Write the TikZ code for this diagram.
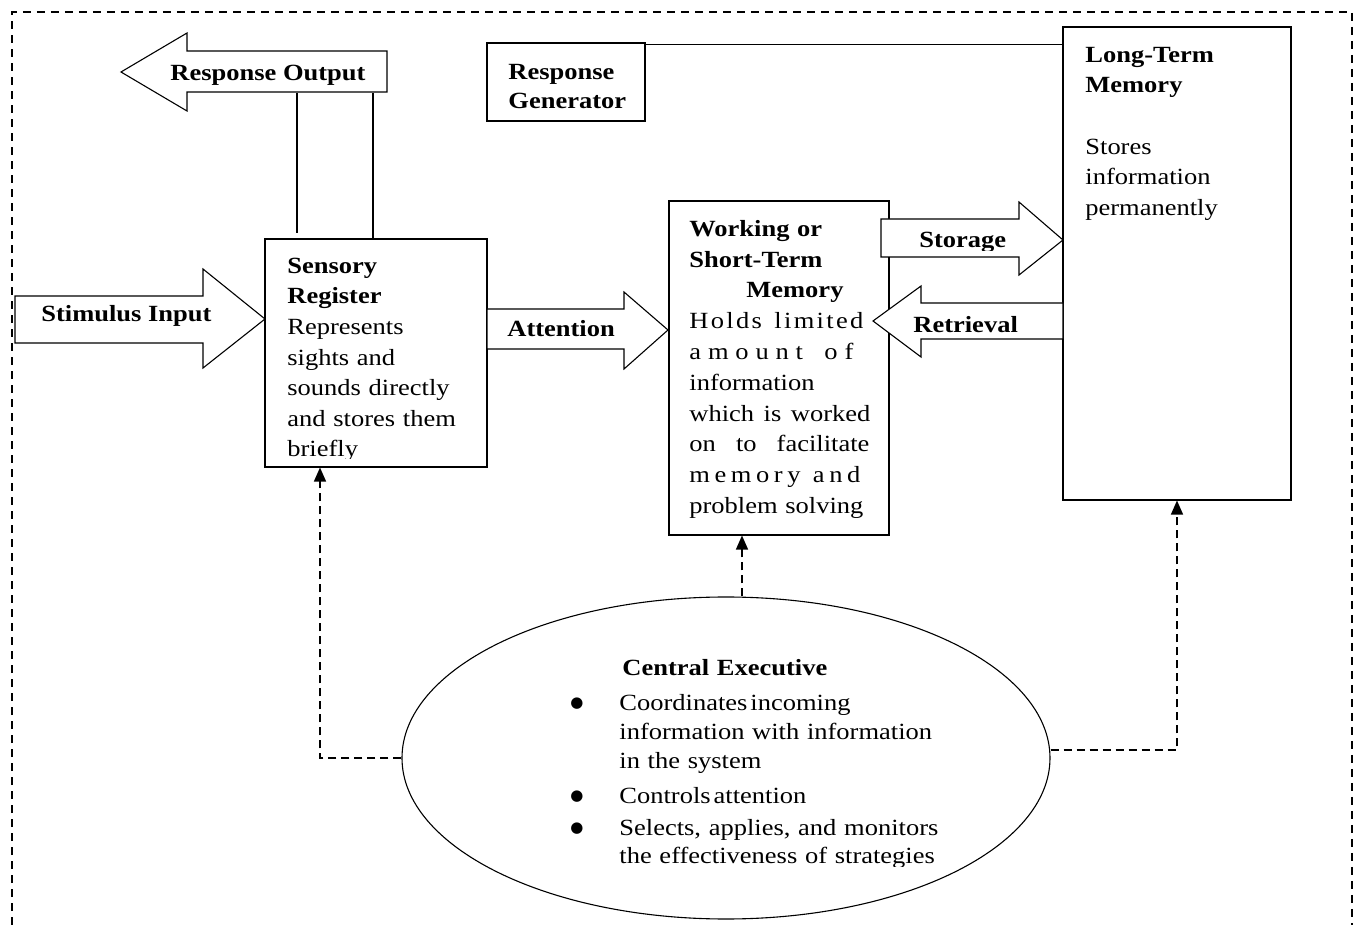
\documentclass[tikz,border=0pt]{standalone}
\usepackage{fontspec}
\setmainfont[FakeStretch=1.142]{Liberation Serif}
\newfontfamily\dvsans{DejaVu Sans}
\usetikzlibrary{shapes.geometric,arrows.meta}
\newcommand\sprd[2]{\makebox[#1][s]{#2}}
\newcommand\bul{\leavevmode\llap{\raisebox{1.6pt}{\dvsans\fontsize{7.5}{7.5}\selectfont ●}\hspace{18pt}}}
\begin{document}
\begin{tikzpicture}[x=0.5pt,y=-0.5pt,font=\fontsize{11.6}{15.3}\selectfont]
\tikzset{
  ln/.style={line width=0.55pt},
  box/.style={draw, ln, inner sep=0pt},
  blockarrow/.style={draw, ln, fill=white, line join=miter},
  txt/.style={anchor=north west, inner sep=0pt, text width=130pt, align=left},
  lbl/.style={anchor=base west, inner sep=0pt, font=\bfseries\fontsize{11.6}{15.3}\selectfont},
  border/.style={line width=1.2pt, dash pattern=on 4pt off 3pt},
  dconn/.style={line width=0.7pt, dash pattern=on 4pt off 2.5pt, -{Triangle[length=7pt,width=6pt]}},
}
\useasboundingbox (0,0) rectangle (1357,925);
% outer frame
\draw[border] (12,925) -- (12,12) -- (1352,12) -- (1352,925);

% boxes
\node[box, minimum width=111pt, minimum height=114pt] (sens) at (376,353) {};
\node[box, minimum width=110pt, minimum height=167pt] (wm) at (779,368) {};
\node[box, minimum width=114pt, minimum height=236.5pt] (ltm) at (1177,263.5) {};
\node[box, minimum width=79pt, minimum height=39pt] (rg) at (566,82) {};
\node[draw, ln, ellipse, inner sep=0pt, minimum width=324pt, minimum height=161pt] (ce) at (726,758) {};

% block arrows
\draw[blockarrow] (121,72) -- (187,33) -- (187,51) -- (387,51) -- (387,92) -- (187,92) -- (187,111) -- cycle;
\draw[blockarrow] (15,296) -- (203,296) -- (203,269) -- (265,319) -- (203,368) -- (203,343) -- (15,343) -- cycle;
\draw[blockarrow] (487,309) -- (624,309) -- (624,292) -- (668,330) -- (624,369) -- (624,349) -- (487,349) -- cycle;
\draw[blockarrow] (881,219) -- (1019,219) -- (1019,202) -- (1063,240) -- (1019,275) -- (1019,257) -- (881,257) -- cycle;
\draw[blockarrow] (873,321) -- (921,286) -- (921,303) -- (1063,303) -- (1063,339) -- (921,339) -- (921,357) -- cycle;

% plain connectors
\coordinate (ro1) at (297,93);
\coordinate (ro1e) at (297,233);
\coordinate (ro2) at (373,93);
\draw[ln] (ro1) -- (ro1e);
\draw[ln] (ro2) -- (ro2 |- sens.north);
\draw[ln] ([yshift=-1pt]rg.north east) -- ([yshift=-1pt]rg.north east -| ltm.west);

% dashed control connectors
\draw[dconn] (ce.west) -| ([xshift=-28pt]sens.south);
\draw[dconn] ([xshift=8pt]ce.north) -- ([xshift=8pt]ce.north |- wm.south);
\draw[dconn] ([yshift=4pt]ce.east) -| (ltm.south);

% labels
\node[lbl] (tro) at (170,81) {Response Output};
\node[lbl] (tsi) at (41,322) {Stimulus Input};
\node[lbl] (tat) at (507,337) {Attention};
\begin{scope}
\clip (881,219) rectangle (1019,251);
\node[lbl] (tst) at (919,248) {Storage};
\end{scope}
\node[lbl] (tre) at (913,333) {Retrieval};

\node[txt, font=\bfseries\fontsize{11.6}{14.5}\selectfont] (trg) at (508,59)
  {\rule{0pt}{10pt}Response\\Generator};

\node[txt] (tltm) at (1085,42)
  {\rule{0pt}{10pt}\textbf{Long-Term}\\\textbf{Memory}\\[15.3pt]Stores\\information\\permanently};

\begin{scope}
\clip (265,239) rectangle (487,459);
\node[txt] (tsens) at (287,253)
  {\rule{0pt}{10pt}\textbf{Sensory}\\\textbf{Register}\\Represents\\sights and\\sounds directly\\and stores them\\briefly};
\end{scope}

\node[txt, font=\fontsize{11.6}{15.4}\selectfont] (twm) at (689,216)
  {\rule{0pt}{10pt}\textbf{Working or}\\
   \textbf{Short-Term}\\
   \hspace*{28.5pt}\textbf{Memory}\\
   \sprd{87pt}{H\hfill o\hfill l\hfill d\hfill s\hfill\ \hfill l\hfill i\hfill m\hfill i\hfill t\hfill e\hfill d}\\
   \sprd{82pt}{a\hfill m\hfill o\hfill u\hfill n\hfill t\hfill\ \hfill o\hfill f}\\
   information\\
   \sprd{90.5pt}{which\hfill\ is\hfill\ worked}\\
   \sprd{90pt}{on\hfill\ to\hfill\ facilitate}\\
   \sprd{85.5pt}{m\hfill e\hfill m\hfill o\hfill r\hfill y\hfill\ a\hfill n\hfill d}\\
   problem solving};

\begin{scope}
\clip (400,600) rectangle (1050,866);
\node[txt, text width=200pt, font=\fontsize{11.6}{14.6}\selectfont] (tce) at (619,655)
  {\rule{0pt}{10pt}\hspace*{1.5pt}\textbf{Central Executive}\\[2.9pt]
   \bul Coordinates\hspace{1.5pt}incoming\\
   information with information\\
   in the system\\[2.9pt]
   \bul Controls\hspace{1.5pt}attention\\[1.4pt]
   \bul Selects, applies, and monitors\\[-0.6pt]
   the effectiveness of strategies};
\end{scope}
\end{tikzpicture}
\end{document}
